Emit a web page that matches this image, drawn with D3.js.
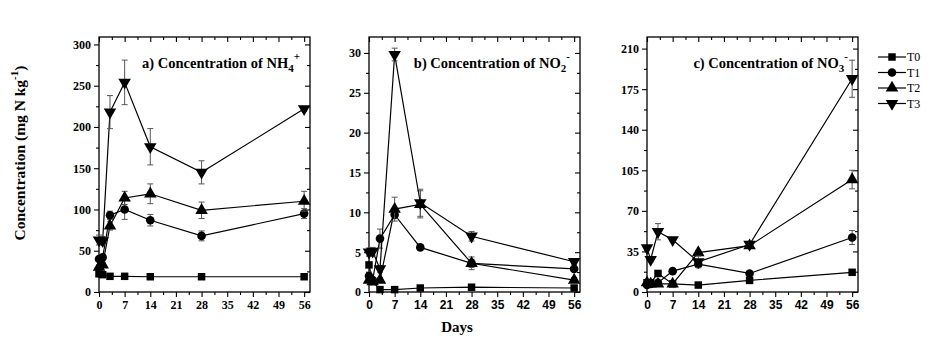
<!DOCTYPE html>
<html>
<head>
<meta charset="utf-8">
<script src="https://cdn.jsdelivr.net/npm/d3@7"></script>
<style>
body { margin: 0; background: #fff; }
svg { display: block; }
</style>
</head>
<body>
<div id="chart"></div>
<script>
// sampling days and treatments
const days = [0, 1, 3, 7, 14, 28, 56];
const treatments = ["T0", "T1", "T2", "T3"];
const xTicks = [0, 7, 14, 21, 28, 35, 42, 49, 56];

// a) NH4+ (mg N kg-1)
const nh4T0 = [22, 21, 19, 19, 18.5, 18.5, 18.5];
const nh4T1 = [40, 42, 93, 100, 87, 68, 95];
const nh4T2 = [30, 33, 80, 114, 119, 99, 110];
const nh4T3 = [63, 62, 218, 254, 176, 145, 222];
const nh4T0Err = [1, 1, 1, 1, 1, 1, 1];
const nh4T1Err = [3, 3, 5, 12, 7, 6, 6];
const nh4T2Err = [3, 3, 5, 8, 12, 10, 12];
const nh4T3Err = [6, 5, 20, 27, 22, 14, 3];
const nh4Ticks = [0, 50, 100, 150, 200, 250, 300];

// b) NO2-
const no2T0 = [3.4, 1.3, 0.3, 0.3, 0.5, 0.6, 0.5];
const no2T1 = [2.0, 1.5, 6.7, 9.7, 5.6, 3.6, 2.9];
const no2T2 = [1.5, 1.3, 1.5, 10.4, 11.0, 3.6, 1.5];
const no2T3 = [5.0, 5.1, 2.9, 29.8, 11.2, 7.0, 3.8];
const no2T0Err = [0.3, 0.2, 0.1, 0.1, 0.1, 0.1, 0.1];
const no2T1Err = [0.5, 0.3, 1.2, 0.5, 0.3, 0.5, 0.3];
const no2T2Err = [0.3, 0.3, 0.3, 1.5, 1.7, 0.8, 0.3];
const no2T3Err = [0.5, 0.5, 0.4, 0.8, 1.7, 0.6, 0.3];
const no2Ticks = [0, 5, 10, 15, 20, 25, 30];

// c) NO3-
const no3T0 = [8, 8, 16, 7, 6, 10, 17];
const no3T1 = [6, 7, 8, 18, 24, 16, 47];
const no3T2 = [8, 7, 7, 7, 34, 40, 97];
const no3T3 = [38, 28, 52, 45, 26, 41, 184];
const no3T0Err = [1, 1, 1, 1, 1, 1, 1];
const no3T1Err = [1, 1, 1, 1, 2, 1, 6];
const no3T2Err = [1, 1, 1, 1, 2, 2, 8];
const no3T3Err = [2, 2, 7, 1, 5, 2, 16];
const no3Ticks = [0, 35, 70, 105, 140, 175, 210];

const W = 936, H = 364;
const plotTop = 37, plotBottom = 292, plotW = 211;
const serif = "'Liberation Serif', 'Times New Roman', serif";
const sans = "'Liberation Sans', Arial, sans-serif";

const panels = [
	{ left: 99, yMax: 309, yTicks: nh4Ticks, xFont: serif,
		title: ["a) Concentration of NH", "4", "+"],
		values: [nh4T0, nh4T1, nh4T2, nh4T3], errs: [nh4T0Err, nh4T1Err, nh4T2Err, nh4T3Err] },
	{ left: 369, yMax: 32, yTicks: no2Ticks, xFont: sans,
		title: ["b) Concentration of NO", "2", "-"],
		values: [no2T0, no2T1, no2T2, no2T3], errs: [no2T0Err, no2T1Err, no2T2Err, no2T3Err] },
	{ left: 647, yMax: 220, yTicks: no3Ticks, xFont: sans,
		title: ["c) Concentration of NO", "3", "-"],
		values: [no3T0, no3T1, no3T2, no3T3], errs: [no3T0Err, no3T1Err, no3T2Err, no3T3Err] }
];

// marker shape per treatment
const symbols = [
	d3.symbol().type(d3.symbolSquare).size(56),
	d3.symbol().type(d3.symbolCircle).size(58),
	d3.symbol().type(d3.symbolTriangle).size(68),
	d3.symbol().type(d3.symbolTriangle).size(68)
];
const rotations = [0, 0, 0, 180];

const svg = d3.select("#chart").append("svg")
	.attr("width", W)
	.attr("height", H);

panels.forEach(p => {
	const x = d3.scaleLinear().domain([0, 57.6]).range([p.left, p.left + plotW]);
	const y = d3.scaleLinear().domain([0, p.yMax]).range([plotBottom, plotTop]);
	const yStep = p.yTicks[1] - p.yTicks[0];
	const yMinor = d3.range(yStep / 2, p.yMax, yStep);
	const xMinor = d3.range(3.5, 57.6, 7);

	const g = svg.append("g");

	// frame
	g.append("rect")
		.attr("x", p.left).attr("y", plotTop)
		.attr("width", plotW).attr("height", plotBottom - plotTop)
		.attr("fill", "none").attr("stroke", "#000").attr("stroke-width", 1.3);

	// bottom axis (ticks outward)
	const xAxis = g.append("g").attr("transform", `translate(0,${plotBottom})`)
		.call(d3.axisBottom(x).tickValues(xTicks).tickSize(5).tickPadding(3).tickFormat(d3.format("d")));
	g.append("g").attr("transform", `translate(0,${plotBottom})`)
		.call(d3.axisBottom(x).tickValues(xMinor).tickSize(3).tickFormat(""));
	// top mirror (ticks inward)
	g.append("g").attr("transform", `translate(0,${plotTop})`)
		.call(d3.axisTop(x).tickValues(xTicks).tickSize(-5).tickFormat(""));
	g.append("g").attr("transform", `translate(0,${plotTop})`)
		.call(d3.axisTop(x).tickValues(xMinor).tickSize(-3).tickFormat(""));

	// left axis (ticks outward)
	const yAxis = g.append("g").attr("transform", `translate(${p.left},0)`)
		.call(d3.axisLeft(y).tickValues(p.yTicks).tickSize(5).tickPadding(3));
	g.append("g").attr("transform", `translate(${p.left},0)`)
		.call(d3.axisLeft(y).tickValues(yMinor).tickSize(3).tickFormat(""));
	// right mirror (ticks inward)
	g.append("g").attr("transform", `translate(${p.left + plotW},0)`)
		.call(d3.axisRight(y).tickValues(p.yTicks).tickSize(-5).tickFormat(""));
	g.append("g").attr("transform", `translate(${p.left + plotW},0)`)
		.call(d3.axisRight(y).tickValues(yMinor).tickSize(-3).tickFormat(""));

	g.selectAll(".domain").remove();
	g.selectAll(".tick line").attr("stroke", "#000").attr("stroke-width", 1.1);

	xAxis.selectAll("text")
		.attr("font-family", p.xFont).attr("font-weight", "bold")
		.attr("font-size", 12).attr("fill", "#000");
	yAxis.selectAll("text")
		.attr("font-family", serif).attr("font-weight", "bold")
		.attr("font-size", 12).attr("fill", "#000");

	// series: line, error bars, markers
	const line = d3.line().x((d, i) => x(days[i])).y(d => y(d));

	p.values.forEach((vals, s) => {
		const errs = p.errs[s];
		const sg = g.append("g");

		sg.append("path")
			.datum(vals)
			.attr("d", line)
			.attr("fill", "none").attr("stroke", "#000").attr("stroke-width", 1.2);

		const eb = sg.selectAll(".err").data(vals).enter().append("g");
		eb.append("line")
			.attr("x1", (d, i) => x(days[i])).attr("x2", (d, i) => x(days[i]))
			.attr("y1", (d, i) => y(d - errs[i])).attr("y2", (d, i) => y(d + errs[i]))
			.attr("stroke", "#555").attr("stroke-width", 1);
		[-1, 1].forEach(sign => {
			eb.append("line")
				.attr("x1", (d, i) => x(days[i]) - 3).attr("x2", (d, i) => x(days[i]) + 3)
				.attr("y1", (d, i) => y(d + sign * errs[i])).attr("y2", (d, i) => y(d + sign * errs[i]))
				.attr("stroke", "#555").attr("stroke-width", 1);
		});

		sg.selectAll(".mk").data(vals).enter().append("path")
			.attr("d", symbols[s])
			.attr("transform", (d, i) => `translate(${x(days[i])},${y(d)}) rotate(${rotations[s]})`)
			.attr("fill", "#000");
	});

	// panel title with subscript and superscript
	const t = g.append("text")
		.attr("x", p.left + plotW - 10).attr("y", 68)
		.attr("text-anchor", "end")
		.attr("font-family", serif).attr("font-weight", "bold")
		.attr("font-size", 14.5).attr("fill", "#000");
	t.append("tspan").text(p.title[0]);
	t.append("tspan").attr("dy", 4).attr("font-size", 11).text(p.title[1]);
	t.append("tspan").attr("dy", -12).attr("font-size", 11).text(p.title[2]);
});

// y axis title
const yt = svg.append("text")
	.attr("transform", "translate(25,153) rotate(-90)")
	.attr("text-anchor", "middle")
	.attr("font-family", serif).attr("font-weight", "bold")
	.attr("font-size", 15.5).attr("fill", "#000");
yt.append("tspan").text("Concentration (mg N kg");
yt.append("tspan").attr("dy", -7).attr("font-size", 11).text("-1");
yt.append("tspan").attr("dy", 7).text(")");

// x axis title
svg.append("text")
	.attr("x", 457).attr("y", 332)
	.attr("text-anchor", "middle")
	.attr("font-family", serif).attr("font-weight", "bold")
	.attr("font-size", 15).attr("fill", "#000")
	.text("Days");

// legend
const legend = svg.append("g");
treatments.forEach((name, s) => {
	const ly = 57 + s * 15.5;
	legend.append("line")
		.attr("x1", 878).attr("x2", 906).attr("y1", ly).attr("y2", ly)
		.attr("stroke", "#000").attr("stroke-width", 1.2);
	legend.append("path")
		.attr("d", symbols[s])
		.attr("transform", `translate(892,${ly}) rotate(${rotations[s]})`)
		.attr("fill", "#000");
	legend.append("text")
		.attr("x", 907).attr("y", ly + 4)
		.attr("font-family", serif).attr("font-size", 12).attr("fill", "#000")
		.text(name);
});
</script>
</body>
</html>
